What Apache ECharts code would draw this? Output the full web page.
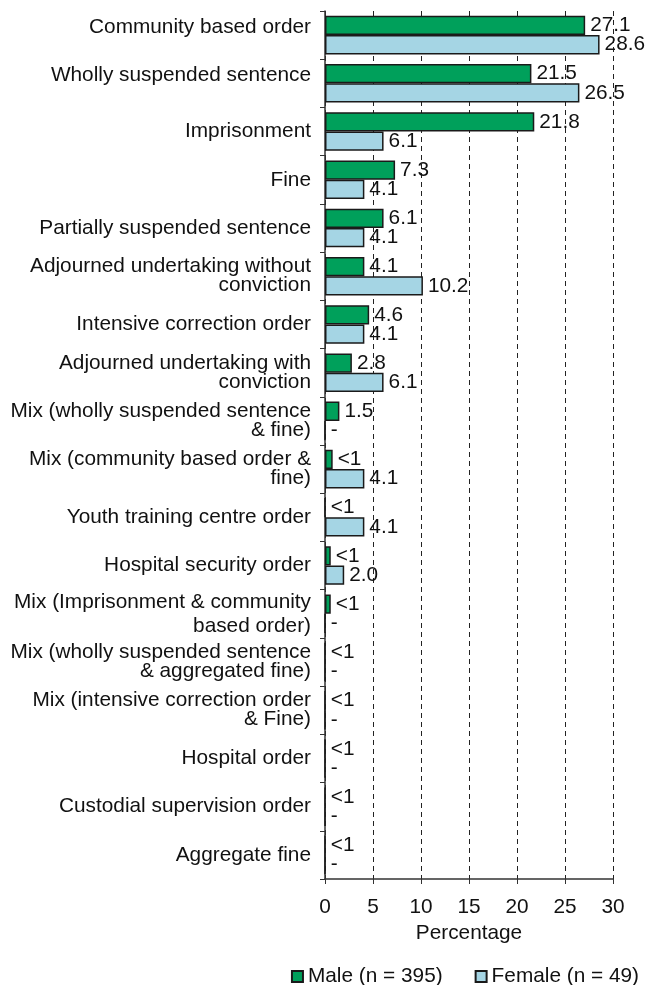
<!DOCTYPE html>
<html>
<head>
<meta charset="utf-8">
<script src="https://cdn.jsdelivr.net/npm/echarts@6/dist/echarts.min.js"></script>
<style>
  html, body { margin: 0; padding: 0; background: #fff; }
  #chart { width: 646px; height: 985px; }
</style>
</head>
<body>
<div id="chart"></div>
<script>
const categories = [
  'Community based order',
  'Wholly suspended sentence',
  'Imprisonment',
  'Fine',
  'Partially suspended sentence',
  'Adjourned undertaking without\nconviction',
  'Intensive correction order',
  'Adjourned undertaking with\nconviction',
  'Mix (wholly suspended sentence\n& fine)',
  'Mix (community based order &\nfine)',
  'Youth training centre order',
  'Hospital security order',
  'Mix (Imprisonment & community\nbased order)',
  'Mix (wholly suspended sentence\n& aggregated fine)',
  'Mix (intensive correction order\n& Fine)',
  'Hospital order',
  'Custodial supervision order',
  'Aggregate fine'
]
const maleValues = [27.1, 21.5, 21.8, 7.3, 6.1, 4.1, 4.6, 2.8, 1.5, 0.8, 0, 0.6, 0.6, 0, 0, 0, 0, 0]
const maleLabels = ['27.1', '21.5', '21.8', '7.3', '6.1', '4.1', '4.6', '2.8', '1.5', '<1', '<1', '<1', '<1', '<1', '<1', '<1', '<1', '<1']
const femaleValues = [28.6, 26.5, 6.1, 4.1, 4.1, 10.2, 4.1, 6.1, 0, 4.1, 4.1, 2.0, 0, 0, 0, 0, 0, 0]
const femaleLabels = ['28.6', '26.5', '6.1', '4.1', '4.1', '10.2', '4.1', '6.1', '-', '4.1', '4.1', '2.0', '-', '-', '-', '-', '-', '-']
const xTicks = { min: 0, max: 30, interval: 5 }

const font = 'Liberation Sans, Arial, sans-serif'
const fs = 20.8

const labelStyle = {
  show: true,
  position: 'right',
  distance: 5,
  color: '#111',
  fontFamily: font,
  fontSize: fs
}

const option = {
  animation: false,
  grid: {
    left: 325,
    right: 33,
    top: 11,
    bottom: 106
  },
  legend: {
    top: 961,
    right: 2,
    itemWidth: 11,
    itemHeight: 11,
    itemGap: 32,
    icon: 'rect',
    textStyle: {
      fontFamily: font,
      fontSize: fs,
      color: '#111'
    },
    data: ['Male (n = 395)', 'Female (n = 49)']
  },
  xAxis: {
    type: 'value',
    min: xTicks.min,
    max: xTicks.max,
    interval: xTicks.interval,
    name: 'Percentage',
    nameLocation: 'middle',
    nameGap: 40,
    nameTextStyle: {
      fontFamily: font,
      fontSize: fs,
      color: '#111'
    },
    axisLine: { show: true, lineStyle: { color: '#333', width: 1.5 } },
    axisTick: { show: true, length: 5, lineStyle: { color: '#333' } },
    axisLabel: {
      margin: 18,
      fontFamily: font,
      fontSize: fs,
      color: '#111'
    },
    splitLine: {
      show: true,
      lineStyle: { color: '#222', type: [5, 4], width: 1 }
    }
  },
  yAxis: {
    type: 'category',
    inverse: true,
    data: categories,
    axisLine: { show: true, lineStyle: { color: '#333', width: 1.5 } },
    axisTick: { show: true, length: 5, lineStyle: { color: '#333' } },
    axisLabel: {
      margin: 14,
      fontFamily: font,
      fontSize: fs,
      color: '#111',
      lineHeight: 19,
      align: 'right',
      formatter: (value, index) => {
        // first two labels sit higher, Mix (Imprisonment...) is spaced wider
        if (index < 2) return '{up|' + value + '}'
        if (index === 12) return value.split('\n').map(v => '{wide|' + v + '}').join('\n')
        return value
      },
      rich: {
        up: {
          fontFamily: font,
          fontSize: fs,
          color: '#111',
          padding: [0, 0, 16, 0]
        },
        wide: {
          fontFamily: font,
          fontSize: fs,
          color: '#111',
          lineHeight: 24
        }
      }
    }
  },
  series: [
    {
      name: 'Male (n = 395)',
      type: 'bar',
      barGap: '0%',
      barCategoryGap: '20%',
      itemStyle: { color: '#00a05b', borderColor: '#1a1a1a', borderWidth: 1.5 },
      label: Object.assign({}, labelStyle, {
        formatter: (p) => maleLabels[p.dataIndex]
      }),
      data: maleValues
    },
    {
      name: 'Female (n = 49)',
      type: 'bar',
      barCategoryGap: '20%',
      itemStyle: { color: '#a5d5e4', borderColor: '#1a1a1a', borderWidth: 1.5 },
      label: Object.assign({}, labelStyle, {
        formatter: (p) => femaleLabels[p.dataIndex]
      }),
      data: femaleValues
    }
  ]
}

const myChart = echarts.init(document.getElementById('chart'))
myChart.setOption(option, true)
</script>
</body>
</html>
